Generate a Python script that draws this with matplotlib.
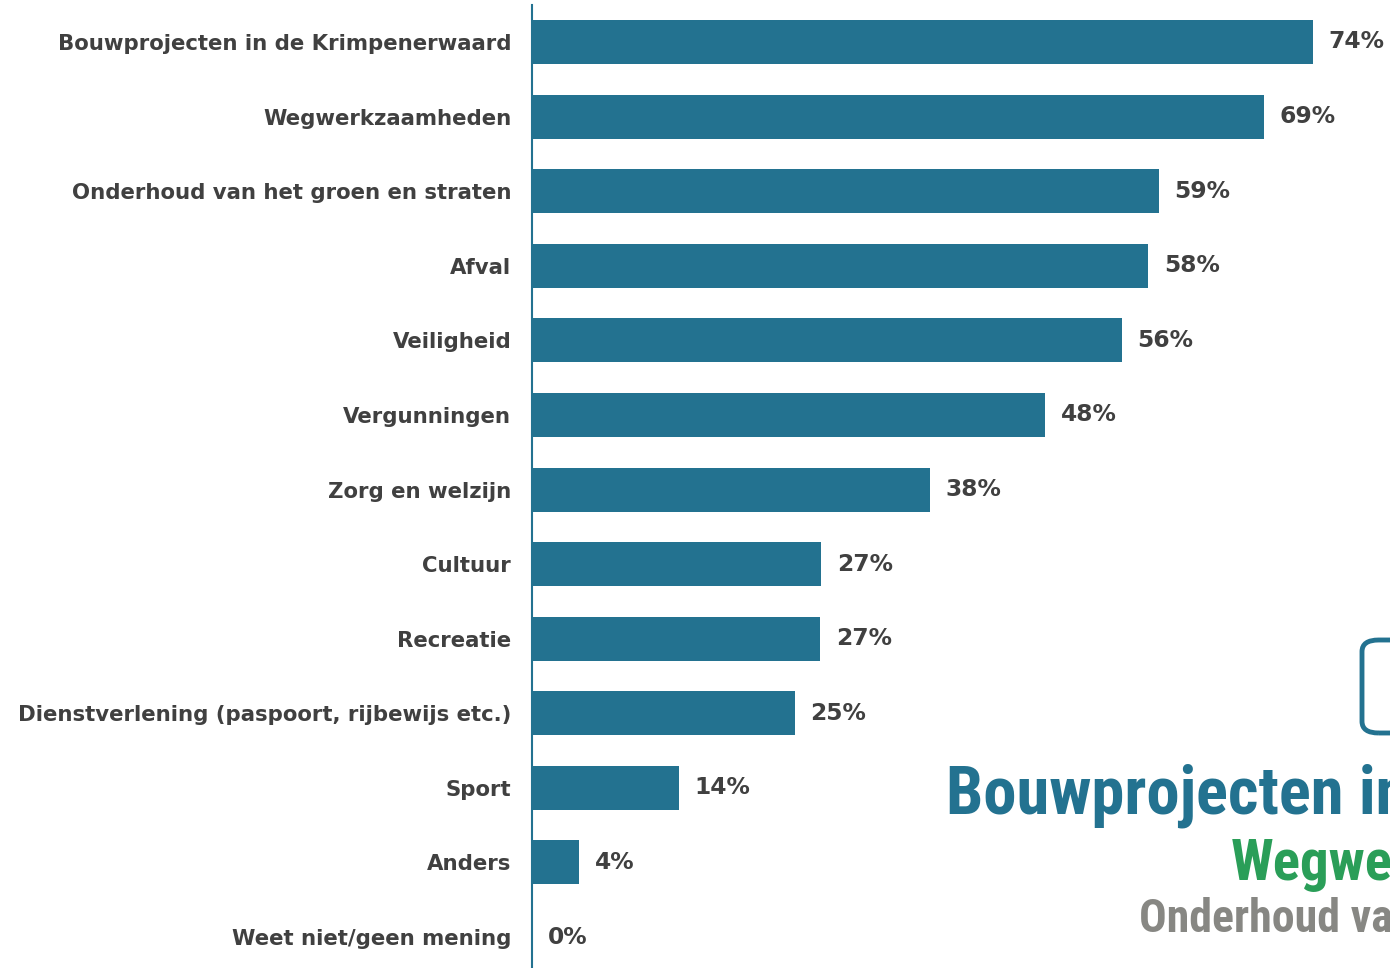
import matplotlib
matplotlib.use("Agg")
import matplotlib.pyplot as plt
from matplotlib import font_manager as fm
from matplotlib.patches import FancyBboxPatch

categories = [
    "Bouwprojecten in de Krimpenerwaard",
    "Wegwerkzaamheden",
    "Onderhoud van het groen en straten",
    "Afval",
    "Veiligheid",
    "Vergunningen",
    "Zorg en welzijn",
    "Cultuur",
    "Recreatie",
    "Dienstverlening (paspoort, rijbewijs etc.)",
    "Sport",
    "Anders",
    "Weet niet/geen mening",
]
values = [74.0, 69.4, 59.4, 58.4, 55.9, 48.6, 37.7, 27.4, 27.3, 24.9, 13.9, 4.5, 0.0]
value_labels = ["74%", "69%", "59%", "58%", "56%", "48%", "38%", "27%", "27%", "25%", "14%", "4%", "0%"]

bar_color = "#237290"
text_color = "#404040"


def find_condensed_bold():
    cands = []
    for f in fm.fontManager.ttflist:
        name = f.name
        st = str(f.stretch)
        cond = ("Narrow" in name or "Condensed" in name or "Cond" in f.fname
                or st in ("condensed", "semi-condensed", "extra-condensed", "ultra-condensed")
                or (st.isdigit() and int(st) < 500))
        w = f.weight if isinstance(f.weight, int) else {"bold": 700, "semibold": 600, "heavy": 800, "black": 900, "extra bold": 800, "demibold": 600}.get(str(f.weight), 400)
        if cond and w >= 600 and "italic" not in f.style and "oblique" not in f.style:
            pref = 0
            if "Liberation" in name:
                pref = 3
            elif "Roboto" in name:
                pref = 2
            elif "DejaVu" in name:
                pref = 1
            cands.append((pref, -abs(w - 700), f.fname))
    if cands:
        cands.sort(reverse=True)
        return fm.FontProperties(fname=cands[0][2])
    return fm.FontProperties(family="DejaVu Sans", weight="bold")


wm_font = find_condensed_bold()

W, H = 1390, 968
fig = plt.figure(figsize=(W / 100, H / 100), dpi=100)
ax = fig.add_axes([532 / W, 0, (W - 532) / W, (968 - 5) / H])

y = list(range(len(categories)))
ax.barh(y, values, height=0.59, color=bar_color)
ax.set_ylim(12.415, -0.496)
ax.set_xlim(0, 858 / 10.55)

for yi, v, lab in zip(y, values, value_labels):
    ax.text(v + 1.5, yi, lab, va="center", ha="left", fontsize=16.8,
            fontweight="bold", color=text_color, family="DejaVu Sans")

ax.set_yticks(y)
ax.set_yticklabels(categories, fontsize=15.3, fontweight="bold", color=text_color)
ax.tick_params(axis="y", length=0, pad=15)
ax.set_xticks([])
for s in ["top", "right", "bottom"]:
    ax.spines[s].set_visible(False)
ax.spines["left"].set_color(bar_color)
ax.spines["left"].set_linewidth(1.5)

# Overlapping background graphics (partially cut at the right edge, as in the reference)
box = FancyBboxPatch((1362 / W, 1 - 733 / H), 120 / W, 93 / H,
                     boxstyle="round,pad=0,rounding_size=0.012",
                     transform=fig.transFigure, fill=False,
                     edgecolor=bar_color, linewidth=3.5)
fig.patches.append(box)


def wm(x, yb, s, size, color):
    fp = wm_font.copy()
    fp.set_size(size)
    fig.text(x / W, 1 - yb / H, s, fontproperties=fp, color=color,
             ha="left", va="baseline")


wm(946, 813, "Bouwprojecten in de Krimpenerwaard", 48, bar_color)
wm(1231, 880, "Wegwerkzaamheden", 41, "#2a9e58")
wm(1139, 932, "Onderhoud van het groen en straten", 33, "#878783")

fig.savefig("out.png", dpi=100)
